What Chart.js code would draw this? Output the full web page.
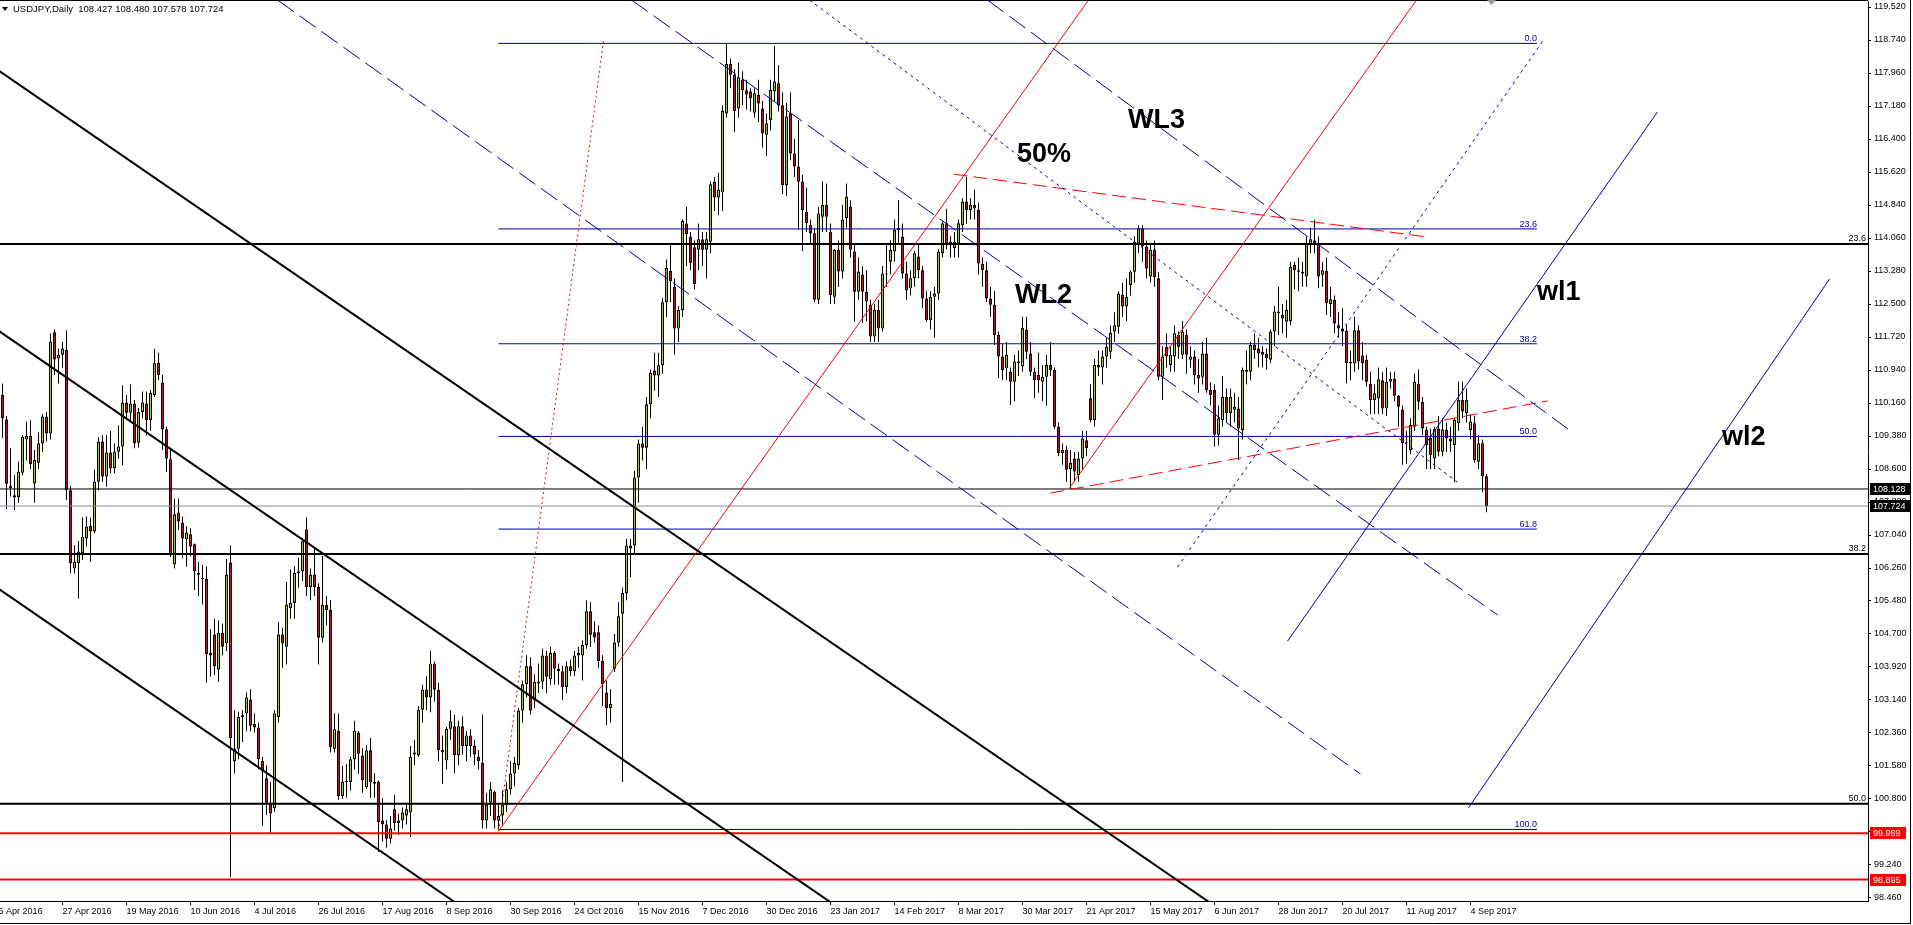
<!DOCTYPE html>
<html>
<head>
<meta charset="utf-8">
<title>USDJPY Daily</title>
<script src="https://cdn.jsdelivr.net/npm/chart.js@4.4.1/dist/chart.umd.min.js"></script>
<style>
  html, body { margin: 0; padding: 0; background: #fff; overflow: hidden; }
  #wrap { width: 1913px; height: 925px; position: relative; }
</style>
</head>
<body>
<div id="wrap"><canvas id="chart"></canvas></div>
<script>
// ---- candles, [open, high, low, close], 16 bars per date label ----
const b_05Apr16 = [
  [111.2,111.4,110.0,110.35],[110.35,110.62,109.33,109.8],[109.77,109.85,107.65,108.25],[108.2,109.09,107.95,108.15],
  [107.98,108.45,107.63,107.93],[107.93,108.77,107.8,108.54],[108.51,109.4,108.45,109.36],[109.3,109.72,108.8,109.38],
  [109.38,109.75,108.6,108.72],[108.26,109.05,107.8,108.81],[108.75,109.46,108.6,109.21],[109.21,109.9,109.0,109.84],
  [109.84,109.95,109.25,109.44],[109.44,111.81,109.3,111.61],[111.83,111.9,110.82,111.19],[111.21,111.45,110.62,111.3]
];
const b_27Apr16 = [
  [111.3,111.6,111.0,111.45],[111.41,111.88,107.87,108.1],[108.1,108.2,106.13,106.37],[106.25,106.8,106.13,106.41],
  [106.37,106.9,105.54,106.65],[106.61,107.46,106.45,107.0],[106.96,107.48,106.77,107.24],[107.25,107.45,106.41,107.12],
  [107.12,108.58,107.08,108.3],[108.3,109.35,108.1,109.25],[109.25,109.4,108.3,108.42],[108.42,109.4,108.18,108.99],
  [108.99,109.5,108.5,108.62],[108.62,109.2,108.5,109.01],[109.01,109.63,108.85,109.13],[109.13,110.58,108.69,110.17]
];
const b_19May16 = [
  [110.17,110.35,109.75,109.93],[109.93,110.6,109.7,110.15],[110.15,110.23,109.09,109.21],[109.22,110.05,109.1,109.95],
  [109.95,110.43,109.8,110.17],[110.15,110.43,109.4,109.76],[109.76,110.47,109.5,110.4],[110.35,111.44,110.3,111.1],
  [111.11,111.35,110.7,110.82],[110.64,110.82,109.05,109.54],[109.54,109.6,108.53,108.85],[108.83,109.1,106.52,106.57],
  [106.35,107.9,106.25,107.53],[107.57,107.9,107.16,107.36],[107.33,107.48,106.49,106.96],[106.94,107.24,106.29,107.1]
];
const b_10Jun16 = [
  [107.06,107.2,106.53,106.77],[106.82,106.84,105.74,106.19],[106.14,106.41,105.6,106.1],[106.02,106.33,105.4,106.0],
  [106.0,106.3,103.55,104.23],[104.25,104.81,103.69,104.19],[104.69,105.06,103.73,103.94],[103.86,105.02,103.57,104.73],
  [104.73,104.94,104.2,104.4],[104.48,106.47,104.3,106.1],[106.39,106.8,98.95,102.24],[101.7,102.9,101.4,101.99],
  [101.99,102.86,101.74,102.74],[102.74,102.9,102.15,102.78],[102.82,103.32,102.4,103.2],[103.15,103.4,102.4,102.53]
];
const b_04Jul16 = [
  [102.57,102.82,102.37,102.49],[102.49,102.6,101.5,101.74],[101.7,101.8,100.17,101.45],[101.29,101.6,100.42,100.71],
  [100.68,101.2,100.0,100.46],[100.58,102.9,100.5,102.82],[102.74,104.98,102.6,104.69],[104.69,104.85,103.9,104.48],
  [104.4,105.93,103.98,105.4],[105.31,106.22,105.06,105.43],[105.43,106.3,105.06,106.14],[106.14,106.51,105.8,106.18],
  [106.18,106.97,105.95,106.89],[107.17,107.46,105.6,105.81],[105.81,106.25,105.5,106.1],[106.1,106.72,105.6,105.81]
];
const b_26Jul16 = [
  [105.81,105.9,103.98,104.61],[104.61,106.55,104.5,105.39],[105.39,105.6,104.9,105.27],[105.27,105.5,101.9,102.03],
  [101.99,102.82,101.9,102.45],[102.41,102.82,100.78,100.87],[100.87,101.58,100.8,101.2],[101.2,101.62,100.83,101.22],
  [101.2,101.8,101.0,101.74],[101.74,102.65,101.5,102.41],[102.37,102.41,101.4,101.87],[101.83,102.0,100.95,101.25],
  [101.08,102.07,101.04,101.95],[101.95,102.24,100.83,101.2],[101.16,101.41,100.83,101.2],[101.2,101.24,99.55,100.25]
];
const b_17Aug16 = [
  [100.29,100.82,99.8,100.2],[100.2,100.3,99.65,99.86],[99.86,100.4,99.75,100.1],[100.56,100.9,100.05,100.23],
  [100.23,100.45,99.95,100.29],[100.29,100.6,100.1,100.48],[100.41,100.7,100.2,100.56],[100.48,102.05,99.9,101.8],
  [101.85,102.2,101.6,101.9],[101.84,103.0,101.8,102.91],[102.91,103.5,102.6,103.38],[103.38,103.7,102.9,103.2],
  [103.2,104.31,102.85,104.0],[104.0,104.05,103.1,103.38],[103.38,103.55,101.7,101.96],[101.96,102.3,101.16,101.9]
];
const b_08Sep16 = [
  [101.71,102.5,101.5,102.46],[102.46,102.9,102.2,102.64],[102.52,102.8,101.4,101.84],[101.84,102.65,101.6,102.52],
  [102.52,102.75,101.85,102.05],[102.05,102.4,101.7,102.3],[102.3,102.45,101.8,102.05],[102.05,102.2,101.6,101.85],
  [101.8,101.95,101.5,101.7],[101.65,102.8,100.1,100.29],[100.29,100.95,100.1,100.66],[100.72,101.2,100.4,101.03],
  [100.97,101.0,100.1,100.29],[100.29,100.7,100.08,100.4],[100.41,101.0,100.2,100.66],[100.66,101.2,100.5,101.03]
];
const b_30Sep16 = [
  [101.03,101.7,100.9,101.4],[101.4,101.8,101.1,101.65],[101.59,102.95,101.5,102.89],[102.89,103.6,102.6,103.51],
  [103.51,104.2,103.2,103.94],[103.94,104.15,102.8,102.89],[103.14,103.75,102.95,103.57],[103.57,104.0,103.3,103.53],
  [103.57,104.35,103.4,104.19],[104.19,104.3,103.3,103.69],[103.63,104.4,103.5,104.25],[104.25,104.3,103.5,103.88],
  [103.88,104.0,103.5,103.82],[103.82,103.95,103.14,103.45],[103.45,104.05,103.3,103.94],[103.94,104.1,103.7,103.82]
];
const b_24Oct16 = [
  [103.82,104.3,103.7,104.19],[104.19,104.4,103.9,104.25],[104.19,104.55,103.6,104.44],[104.44,105.5,104.35,105.24],
  [105.24,105.45,104.4,104.68],[104.74,105.0,104.5,104.62],[104.74,104.9,103.9,104.06],[104.06,104.2,103.0,103.51],
  [103.32,103.6,102.55,102.95],[102.95,103.4,102.6,103.05],[103.88,104.7,103.8,104.5],[104.5,105.45,104.4,105.12],
  [105.18,105.8,101.2,105.67],[105.67,106.95,105.5,106.79],[106.79,106.95,106.05,106.72],[106.79,108.55,106.6,108.4]
];
const b_15Nov16 = [
  [108.4,109.3,107.8,109.2],[109.2,109.6,108.8,109.1],[109.1,110.3,108.6,110.13],[110.13,110.95,109.8,110.87],
  [110.93,111.35,110.45,110.81],[110.81,111.35,110.3,111.05],[111.05,112.65,110.85,112.54],[112.54,113.55,112.2,113.35],
  [113.28,113.9,112.55,113.04],[112.91,113.1,111.3,111.92],[111.92,112.45,111.6,112.36],[112.36,114.5,112.2,114.46],
  [114.4,114.8,113.4,114.15],[114.09,114.2,113.3,113.47],[113.84,114.0,112.85,112.97],[113.78,114.4,113.3,114.03]
];
const b_07Dec16 = [
  [114.03,114.2,113.4,113.78],[113.78,114.2,113.1,114.03],[113.97,115.4,113.7,115.33],[115.39,115.5,114.7,115.02],
  [115.02,115.6,114.6,115.2],[115.14,117.2,114.7,117.06],[117.0,118.66,116.9,118.17],[118.17,118.3,117.6,117.92],
  [117.92,118.05,116.56,117.06],[117.12,118.2,116.9,117.86],[117.8,118.0,117.2,117.55],[117.55,117.8,117.1,117.45],
  [117.52,117.6,117.05,117.37],[117.02,117.6,116.9,117.48],[117.44,117.8,116.8,117.24],[117.12,117.3,116.2,116.53]
];
const b_30Dec16 = [
  [116.5,117.0,116.0,116.77],[116.85,117.8,116.6,117.56],[117.52,118.6,117.3,117.76],[117.72,118.15,117.05,117.2],
  [117.2,117.5,115.1,115.31],[115.31,117.25,115.05,116.93],[117.01,117.5,115.9,116.06],[116.06,116.4,115.5,115.75],
  [115.75,116.85,114.25,115.39],[115.39,115.55,113.75,114.72],[114.68,115.25,114.2,114.41],[114.37,114.5,113.9,114.17],
  [114.17,114.3,112.55,112.6],[112.6,114.8,112.5,114.64],[114.56,115.4,114.2,114.84],[114.84,115.35,114.2,114.56]
];
const b_23Jan17 = [
  [114.21,114.4,112.5,112.71],[112.67,113.8,112.5,113.78],[113.78,114.0,112.9,113.27],[113.27,114.84,113.1,114.49],
  [114.53,115.35,114.3,115.04],[114.8,114.95,113.6,113.78],[113.74,113.9,112.08,112.79],[112.79,113.6,112.6,113.27],
  [113.19,113.4,112.05,112.79],[112.79,113.3,112.1,112.56],[112.48,112.6,111.6,111.73],[111.73,112.5,111.6,112.36],
  [112.36,112.6,111.6,111.92],[111.92,113.4,111.85,113.22],[113.22,113.9,112.9,113.2],[113.5,114.0,113.2,113.78]
];
const b_14Feb17 = [
  [113.74,114.5,113.5,114.25],[114.25,114.96,113.9,114.29],[114.09,114.4,113.1,113.22],[113.22,113.5,112.6,112.83],
  [112.87,113.3,112.7,113.11],[113.11,113.75,112.9,113.7],[113.62,113.9,113.1,113.3],[113.3,113.4,112.4,112.63],
  [112.63,112.8,112.08,112.12],[112.12,112.8,111.9,112.67],[112.67,112.9,111.7,112.75],[112.75,113.8,112.6,113.74],
  [113.7,114.45,113.6,114.41],[114.41,114.75,113.8,113.93],[113.97,114.1,113.6,113.9],[113.82,114.2,113.6,113.97]
];
const b_08Mar17 = [
  [113.93,114.5,113.6,114.41],[114.37,115.0,114.2,114.92],[114.92,115.51,114.4,114.72],[114.72,115.0,114.5,114.84],
  [114.84,115.2,114.5,114.76],[114.72,114.9,113.2,113.46],[113.45,113.6,112.9,113.3],[113.3,113.5,112.55,112.63],
  [112.63,112.9,112.2,112.48],[112.48,112.8,111.53,111.77],[111.77,111.85,110.75,111.26],[111.26,111.55,110.7,110.94],
  [110.98,111.6,110.7,111.3],[110.9,111.0,110.11,110.66],[110.66,111.3,110.2,111.14],[111.14,111.4,110.8,111.1]
];
const b_30Mar17 = [
  [111.02,112.2,110.9,111.93],[111.89,112.2,111.2,111.37],[111.33,111.6,110.8,110.9],[110.9,111.0,110.27,110.7],
  [110.82,111.35,110.4,110.7],[110.66,111.05,110.2,110.78],[110.78,111.3,110.1,111.06],[111.06,111.6,110.8,110.94],
  [110.94,111.0,109.55,109.6],[109.6,109.7,108.9,108.97],[108.97,109.2,108.7,109.05],[109.05,109.15,108.3,108.58],
  [108.6,109.05,108.13,108.74],[108.85,109.0,108.3,108.54],[108.46,109.0,108.3,108.85],[108.85,109.5,108.6,109.32]
];
const b_21Apr17 = [
  [109.28,109.5,108.9,109.09],[110.27,110.6,109.7,109.76],[109.76,111.2,109.6,111.06],[111.06,111.4,110.8,111.0],
  [111.0,111.4,110.6,111.26],[111.26,111.7,111.0,111.49],[111.37,112.0,111.2,111.82],[111.85,112.3,111.6,112.0],
  [111.96,112.8,111.8,112.75],[112.71,113.0,112.2,112.44],[112.44,113.1,112.1,112.67],[112.95,113.3,112.7,113.26],
  [113.26,114.1,113.0,113.97],[113.93,114.37,113.7,114.29],[114.29,114.37,113.5,113.86],[113.86,114.0,113.1,113.34]
];
const b_15May17 = [
  [113.15,113.9,113.0,113.78],[113.78,114.0,112.9,113.13],[113.11,113.25,110.7,110.78],[110.78,111.5,110.23,111.26],
  [111.49,111.8,111.0,111.26],[111.06,111.5,110.9,111.3],[111.26,112.0,110.9,111.81],[111.77,111.85,111.2,111.49],
  [111.3,112.1,111.2,111.85],[111.77,111.9,110.85,111.3],[111.18,111.5,111.0,111.26],[111.26,111.4,110.6,110.82],
  [110.82,111.2,110.4,110.74],[110.78,111.6,110.6,111.33],[111.33,111.7,110.4,110.47],[110.47,110.65,110.1,110.35]
];
const b_06Jun17 = [
  [110.47,110.6,109.13,109.41],[109.41,110.1,109.15,109.8],[109.76,110.8,109.6,110.31],[110.31,110.5,109.7,109.92],
  [109.92,110.5,109.6,110.31],[110.0,110.4,109.7,110.07],[110.03,110.3,108.81,109.56],[109.52,111.0,109.3,110.94],
  [110.94,111.4,110.6,110.9],[110.9,111.6,110.7,111.53],[111.53,111.8,111.2,111.41],[111.45,111.7,111.0,111.33],
  [111.37,111.5,111.0,111.3],[111.33,111.45,110.95,111.22],[111.18,111.9,111.1,111.85],[111.85,112.45,111.5,112.32]
];
const b_28Jun17 = [
  [112.32,112.91,111.77,112.29],[112.24,112.5,111.8,112.16],[112.08,112.6,111.7,112.36],[112.1,113.5,112.0,113.38],
  [113.42,113.5,112.85,113.3],[113.3,113.6,112.8,113.26],[113.26,113.5,112.9,113.22],[113.15,114.1,112.9,113.93],
  [113.89,114.3,113.7,114.03],[114.0,114.49,113.7,113.93],[113.93,114.1,112.87,113.15],[113.19,113.5,112.9,113.3],
  [113.28,113.6,112.24,112.52],[112.5,112.9,112.2,112.61],[112.6,112.7,111.8,112.04],[112.0,112.3,111.7,111.92]
];
const b_20Jul17 = [
  [111.92,112.4,111.5,111.85],[111.87,112.0,110.62,111.1],[111.1,111.4,110.7,111.13],[111.1,112.2,110.9,111.88],
  [111.88,112.0,110.95,111.14],[111.28,111.6,110.7,111.1],[111.18,111.3,110.55,110.66],[110.62,110.9,109.9,110.23],
  [110.23,110.6,109.9,110.39],[110.27,111.0,109.9,110.72],[110.7,110.9,109.9,110.03],[110.03,111.0,109.85,110.66],
  [110.66,110.9,110.5,110.73],[110.73,110.9,110.2,110.33],[110.33,110.35,109.6,110.07],[110.0,110.1,108.7,109.21]
];
const b_11Aug17 = [
  [109.21,109.5,108.73,109.23],[109.05,109.8,108.95,109.64],[109.6,110.85,109.5,110.66],[110.62,110.95,110.0,110.19],
  [110.19,110.3,109.4,109.56],[109.52,109.6,108.6,109.17],[109.33,109.55,108.6,108.93],[108.85,109.6,108.6,109.54],
  [109.56,109.85,108.9,109.01],[109.01,109.8,108.9,109.54],[109.52,109.7,109.0,109.32],[109.32,109.6,109.0,109.25],
  [109.17,109.8,108.28,109.76],[109.68,110.67,109.5,110.23],[110.23,110.67,109.8,109.96],[109.92,110.5,109.7,110.23]
];
const b_04Sep17 = [
  [109.52,109.9,109.3,109.72],[109.68,109.85,108.75,108.81],[108.77,109.4,108.6,109.21],[109.21,109.3,108.05,108.43],
  [108.427,108.48,107.578,107.724]
];

// ---- axes ----
const dateLabels = ['5 Apr 2016','27 Apr 2016','19 May 2016','10 Jun 2016','4 Jul 2016','26 Jul 2016','17 Aug 2016',
  '8 Sep 2016','30 Sep 2016','24 Oct 2016','15 Nov 2016','7 Dec 2016','30 Dec 2016','23 Jan 2017','14 Feb 2017',
  '8 Mar 2017','30 Mar 2017','21 Apr 2017','15 May 2017','6 Jun 2017','28 Jun 2017','20 Jul 2017','11 Aug 2017','4 Sep 2017'];
const dateLabelBars = [0,16,32,48,64,80,96,112,128,144,160,176,192,208,224,240,256,272,288,304,320,336,352,368];
const priceTicks = [119.52,118.74,117.96,117.18,116.40,115.62,114.84,114.06,113.28,112.50,111.72,110.94,110.16,109.38,
  108.60,107.82,107.04,106.26,105.48,104.70,103.92,103.14,102.36,101.58,100.80,100.02,99.24,98.46];

// ---- drawn objects, anchors as [bar, price] ----
const channelA = [[-1,118.085],[320,97.236]];
const channelB = [[-1,111.935],[320,91.086]];
const channelC = [[-1,105.835],[320,84.986]];
const outerDash = [[69.75,119.685],[340.5,101.39]];
const wl2Dash = [[158.25,119.685],[374.75,105.15]];
const wl3Dash = [[247.25,119.685],[393,109.5]];
const midDot = [[202.75,119.685],[364.75,108.29]];
const riseDot = [[294.75,106.28],[386.25,118.74]];
const wl1Line = [[322.25,104.53],[414.75,117.04]];
const wl2Line = [[367.5,100.59],[457.75,113.09]];
const fanDot = [[125,100.04],[151.25,118.72]];
const fanLine = [[125,100.04],[272.5,119.685]];
const riseLine = [[267.75,108.15],[354.5,119.685]];
const topDash = [[238.75,115.57],[357.5,114.08]];
const baseDash = [[263,108.03],[387.25,110.21]];

const fibLevels = [118.66,114.275,111.56,109.37,107.18,100.08];
const fibNames = ['0.0','23.6','38.2','50.0','61.8','100.0'];
const fibBars = [125, 384.6];
const levelPrices = [113.92,106.59,100.69];
const levelNames = ['23.6','38.2','50.0'];
const lastLow = 108.128;
const bid = 107.724;
const redLevels = [99.989, 98.895];
const quote = ['108.427','108.480','107.578','107.724'];

const notes = [
  {text: '50%', at: [254.6, 115.86]},
  {text: 'WL3', at: [282.4, 116.66]},
  {text: 'WL2', at: [254.1, 112.52]},
  {text: 'wl1', at: [384.6, 112.59]},
  {text: 'wl2', at: [430.9, 109.17]}
];

// ---- styles ----
const UP = '#9acd32';
const DOWN = '#f00000';
const NAVY = '#0000a0';
const RED = '#ff0000';
const FONT = '"Liberation Sans", Arial, sans-serif';
const FULL = [-5, 480];

const bars = [].concat(b_05Apr16, b_27Apr16, b_19May16, b_10Jun16, b_04Jul16, b_26Jul16, b_17Aug16, b_08Sep16,
  b_30Sep16, b_24Oct16, b_15Nov16, b_07Dec16, b_30Dec16, b_23Jan17, b_14Feb17, b_08Mar17, b_30Mar17, b_21Apr17,
  b_15May17, b_06Jun17, b_28Jun17, b_20Jul17, b_11Aug17, b_04Sep17);

function seg(points, color, width, dash) {
  return {
    type: 'line',
    data: points.map(p => ({x: p[0], y: p[1]})),
    borderColor: color,
    borderWidth: width,
    borderDash: dash || [],
    borderCapStyle: 'butt',
    pointRadius: 0,
    fill: false,
    tension: 0,
    order: 1
  };
}
function level(price, color, width, span) {
  const s = span || FULL;
  return seg([[s[0], price], [s[1], price]], color, width);
}

const datasets = [
  seg(channelA, '#000', 2), seg(channelB, '#000', 2), seg(channelC, '#000', 2),
  seg(outerDash, NAVY, 1, [20, 7]), seg(wl2Dash, NAVY, 1, [20, 7]), seg(wl3Dash, NAVY, 1, [20, 7]),
  seg(midDot, NAVY, 1, [3, 4]), seg(riseDot, NAVY, 1, [3, 4]),
  seg(wl1Line, NAVY, 1), seg(wl2Line, NAVY, 1),
  seg(fanDot, RED, 1, [2, 3]), seg(fanLine, RED, 1), seg(riseLine, RED, 1),
  seg(topDash, RED, 1, [14, 6]), seg(baseDash, RED, 1, [14, 6]),
  ...fibLevels.map(p => level(p, NAVY, 1, fibBars)),
  ...levelPrices.map(p => level(p, '#000', 2)),
  level(lastLow, '#000', 1),
  level(bid, '#8090a0', 1),
  ...redLevels.map(p => level(p, RED, 2)),
  {
    type: 'bar',
    data: bars.map((b, i) => ({x: i, y: [b[0], b[3]]})),
    backgroundColor: bars.map(b => b[3] >= b[0] ? UP : DOWN),
    borderColor: '#000',
    borderWidth: 1,
    borderSkipped: false,
    inflateAmount: 0,
    barThickness: 3,
    minBarLength: 1,
    grouped: false,
    order: 10
  },
  {
    type: 'bar',
    data: bars.map((b, i) => ({x: i, y: [b[2], b[1]]})),
    backgroundColor: '#000',
    borderWidth: 0,
    inflateAmount: 0,
    barThickness: 1,
    grouped: false,
    order: 11
  }
];

const overlay = {
  id: 'overlay',
  beforeDraw(chart) {
    const c = chart.ctx;
    c.save();
    c.fillStyle = '#fff';
    c.fillRect(0, 0, chart.width, chart.height);
    c.restore();
  },
  afterDraw(chart) {
    const {ctx: c, chartArea: a, scales: {x, y}} = chart;
    c.save();
    c.strokeStyle = '#000';
    c.lineWidth = 1;
    c.beginPath();
    c.moveTo(0, a.top - 0.5); c.lineTo(a.right, a.top - 0.5);
    c.moveTo(1910.5, 0); c.lineTo(1910.5, 923.5);
    c.moveTo(0, 923.5); c.lineTo(1911, 923.5);
    c.stroke();

    // shift marker
    c.fillStyle = '#9a9a9a';
    c.beginPath();
    c.moveTo(1487, 0); c.lineTo(1496, 0); c.lineTo(1491.5, 5); c.closePath();
    c.fill();

    // fibo labels
    c.font = '9px ' + FONT;
    c.textAlign = 'right';
    c.textBaseline = 'alphabetic';
    c.fillStyle = NAVY;
    fibLevels.forEach((p, k) => c.fillText(fibNames[k], x.getPixelForValue(fibBars[1]), y.getPixelForValue(p) - 2));
    c.fillStyle = '#000';
    levelPrices.forEach((p, k) => c.fillText(levelNames[k], a.right - 2, y.getPixelForValue(p) - 3));

    // big notes
    c.font = 'bold 27px ' + FONT;
    c.textAlign = 'left';
    notes.forEach(n => c.fillText(n.text, x.getPixelForValue(n.at[0]), y.getPixelForValue(n.at[1])));

    // price boxes on the axis
    c.font = '9px ' + FONT;
    c.textBaseline = 'middle';
    const boxes = [
      {p: lastLow, bg: '#000', w: 41},
      {p: bid, bg: '#000', w: 41},
      {p: redLevels[0], bg: RED, w: 36},
      {p: redLevels[1], bg: RED, w: 36}
    ];
    boxes.forEach(b => {
      const py = Math.round(y.getPixelForValue(b.p));
      c.fillStyle = b.bg;
      c.fillRect(a.right + 2, py - 6, b.w, 12);
      c.fillStyle = '#fff';
      c.fillText(b.p.toFixed(3), a.right + 5, py + 0.5);
    });

    // title
    c.fillStyle = '#000';
    c.beginPath();
    c.moveTo(2, 7); c.lineTo(8, 7); c.lineTo(5, 11); c.closePath();
    c.fill();
    c.font = '9.5px ' + FONT;
    c.textBaseline = 'alphabetic';
    c.fillText('USDJPY,Daily  ' + quote.join(' '), 13, 12);
    c.restore();
  }
};

new Chart(document.getElementById('chart'), {
  type: 'bar',
  data: {datasets},
  options: {
    responsive: true,
    maintainAspectRatio: false,
    devicePixelRatio: 1,
    animation: false,
    events: [],
    layout: {padding: {left: 0, top: 1, right: 0, bottom: 2}},
    plugins: {legend: {display: false}, tooltip: {enabled: false}},
    scales: {
      x: {
        type: 'linear',
        min: 0.375,
        max: 467.375,
        offset: false,
        bounds: 'data',
        grid: {display: true, drawOnChartArea: false, drawTicks: true, tickLength: 4, color: '#000', offset: false},
        border: {display: true, color: '#000'},
        afterBuildTicks: s => { s.ticks = dateLabelBars.map(v => ({value: v})); },
        afterFit: s => { s.height = 22; s.paddingLeft = 0; s.paddingRight = 0; },
        ticks: {
          autoSkip: false, maxRotation: 0, minRotation: 0, align: 'start', padding: 1,
          color: '#000', font: {family: FONT, size: 9},
          callback: v => dateLabels[dateLabelBars.indexOf(v)]
        }
      },
      y: {
        type: 'linear',
        position: 'right',
        min: 98.389,
        max: 119.662,
        bounds: 'data',
        grid: {display: true, drawOnChartArea: false, drawTicks: true, tickLength: 3, color: '#000'},
        border: {display: true, color: '#000'},
        afterBuildTicks: s => { s.ticks = priceTicks.map(v => ({value: v})); },
        afterFit: s => { s.width = 45; s.paddingTop = 0; s.paddingBottom = 0; },
        ticks: {
          autoSkip: false, padding: 3, color: '#000', font: {family: FONT, size: 9},
          callback: v => v.toFixed(3)
        }
      }
    }
  },
  plugins: [overlay]
});
</script>
</body>
</html>
